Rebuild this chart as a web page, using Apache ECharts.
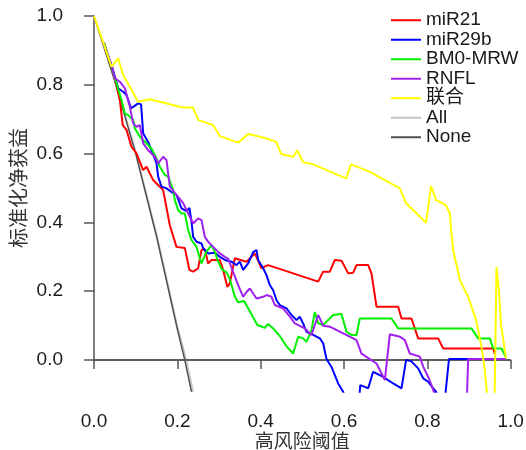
<!DOCTYPE html>
<html>
<head>
<meta charset="utf-8">
<script src="https://cdn.jsdelivr.net/npm/echarts@6/dist/echarts.min.js"></script>
<style>
  html, body { margin: 0; padding: 0; background: #fff; }
  #chart { width: 526px; height: 450px; }
</style>
</head>
<body>
<div id="chart"></div>
<script>
const tickLabels = ['0.0', '0.2', '0.4', '0.6', '0.8', '1.0'];
const legendNames = ['miR21', 'miR29b', 'BM0-MRW', 'RNFL', '联合', 'All', 'None'];

const miR21 = [[0.024,0.922],[0.042,0.853],[0.050,0.819],[0.062,0.756],[0.069,0.683],[0.078,0.669],[0.090,0.620],[0.102,0.601],[0.118,0.552],[0.126,0.562],[0.142,0.523],[0.158,0.504],[0.166,0.494],[0.182,0.392],[0.198,0.329],[0.218,0.326],[0.229,0.262],[0.238,0.257],[0.250,0.267],[0.258,0.320],[0.266,0.322],[0.274,0.281],[0.282,0.291],[0.302,0.291],[0.310,0.262],[0.320,0.213],[0.326,0.223],[0.338,0.296],[0.366,0.286],[0.386,0.310],[0.402,0.267],[0.418,0.276],[0.538,0.228],[0.550,0.257],[0.566,0.257],[0.578,0.291],[0.594,0.289],[0.610,0.252],[0.622,0.254],[0.630,0.276],[0.658,0.276],[0.666,0.252],[0.678,0.155],[0.730,0.155],[0.738,0.121],[0.762,0.121],[0.778,0.063],[0.826,0.063],[0.838,0.034],[0.958,0.034],[0.962,0.017]];

const miR29b = [[0.022,0.922],[0.042,0.858],[0.058,0.790],[0.070,0.780],[0.078,0.770],[0.089,0.732],[0.094,0.736],[0.106,0.746],[0.113,0.743],[0.118,0.659],[0.131,0.631],[0.144,0.591],[0.150,0.572],[0.154,0.533],[0.162,0.504],[0.174,0.499],[0.190,0.485],[0.198,0.480],[0.210,0.441],[0.222,0.433],[0.229,0.442],[0.234,0.402],[0.238,0.358],[0.246,0.344],[0.258,0.339],[0.262,0.325],[0.274,0.310],[0.290,0.312],[0.302,0.300],[0.314,0.291],[0.330,0.286],[0.342,0.276],[0.350,0.286],[0.358,0.262],[0.370,0.281],[0.382,0.314],[0.390,0.320],[0.394,0.291],[0.406,0.267],[0.414,0.247],[0.422,0.218],[0.430,0.203],[0.438,0.174],[0.446,0.160],[0.462,0.150],[0.474,0.131],[0.486,0.116],[0.494,0.126],[0.502,0.106],[0.510,0.082],[0.526,0.073],[0.542,0.063],[0.550,0.049],[0.558,0.003],[0.570,-0.020],[0.578,-0.044],[0.586,-0.068],[0.598,-0.092],[0.606,-0.12],[0.636,-0.12],[0.639,-0.073],[0.650,-0.078],[0.658,-0.082],[0.670,-0.034],[0.694,-0.049],[0.718,-0.068],[0.738,-0.082],[0.749,0.000],[0.761,-0.003],[0.778,-0.024],[0.790,-0.053],[0.802,-0.063],[0.814,-0.082],[0.821,-0.092],[0.826,-0.12],[0.842,-0.12],[0.844,-0.092],[0.852,0.003],[0.985,0.003]];

const bmoMrw = [[0.024,0.922],[0.042,0.853],[0.054,0.804],[0.066,0.756],[0.074,0.717],[0.082,0.712],[0.094,0.698],[0.098,0.674],[0.110,0.649],[0.126,0.630],[0.138,0.615],[0.150,0.586],[0.158,0.562],[0.170,0.538],[0.178,0.533],[0.190,0.494],[0.194,0.465],[0.202,0.436],[0.210,0.426],[0.218,0.426],[0.226,0.378],[0.234,0.349],[0.246,0.329],[0.254,0.296],[0.258,0.281],[0.270,0.315],[0.282,0.334],[0.290,0.315],[0.298,0.286],[0.306,0.265],[0.318,0.255],[0.326,0.235],[0.338,0.185],[0.346,0.168],[0.360,0.172],[0.374,0.142],[0.392,0.102],[0.410,0.094],[0.418,0.105],[0.430,0.092],[0.446,0.070],[0.462,0.040],[0.478,0.019],[0.490,0.068],[0.502,0.063],[0.510,0.053],[0.522,0.087],[0.530,0.140],[0.538,0.107],[0.550,0.102],[0.574,0.131],[0.594,0.134],[0.606,0.082],[0.618,0.073],[0.630,0.073],[0.638,0.121],[0.714,0.121],[0.730,0.092],[0.906,0.092],[0.922,0.063],[0.950,0.063],[0.958,0.034],[0.978,0.034],[0.990,0.005]];

const rnfl = [[0.022,0.922],[0.042,0.858],[0.050,0.819],[0.062,0.809],[0.074,0.790],[0.086,0.736],[0.094,0.688],[0.102,0.678],[0.110,0.683],[0.118,0.630],[0.130,0.610],[0.146,0.591],[0.154,0.572],[0.166,0.591],[0.174,0.581],[0.182,0.504],[0.198,0.480],[0.214,0.456],[0.226,0.426],[0.238,0.397],[0.250,0.412],[0.258,0.407],[0.266,0.358],[0.274,0.344],[0.286,0.329],[0.302,0.310],[0.314,0.300],[0.322,0.295],[0.334,0.256],[0.346,0.218],[0.358,0.184],[0.366,0.198],[0.374,0.208],[0.390,0.179],[0.406,0.184],[0.414,0.189],[0.426,0.184],[0.434,0.160],[0.454,0.150],[0.470,0.126],[0.482,0.107],[0.506,0.092],[0.522,0.073],[0.538,0.131],[0.550,0.100],[0.566,0.097],[0.622,0.063],[0.630,0.058],[0.642,0.019],[0.678,-0.010],[0.698,-0.058],[0.710,0.075],[0.734,0.068],[0.746,0.058],[0.758,0.019],[0.782,0.010],[0.790,-0.019],[0.802,-0.049],[0.810,-0.073],[0.821,-0.11],[0.895,-0.11],[0.898,0.003],[0.989,0.003]];

const combined = [[0.000,1.000],[0.042,0.853],[0.058,0.877],[0.070,0.828],[0.106,0.751],[0.134,0.758],[0.210,0.735],[0.238,0.733],[0.250,0.698],[0.286,0.683],[0.302,0.651],[0.346,0.632],[0.370,0.657],[0.406,0.647],[0.437,0.635],[0.449,0.599],[0.478,0.591],[0.488,0.610],[0.502,0.575],[0.526,0.569],[0.605,0.528],[0.617,0.569],[0.662,0.547],[0.734,0.499],[0.749,0.456],[0.797,0.399],[0.809,0.506],[0.821,0.465],[0.844,0.451],[0.854,0.426],[0.857,0.378],[0.862,0.320],[0.878,0.233],[0.898,0.184],[0.917,0.116],[0.930,0.039],[0.938,-0.029],[0.944,-0.11],[0.9615,-0.11],[0.966,0.271],[0.972,0.199],[0.977,0.102],[0.989,0.005]];

const treatAll = [[0.000,1.000],[0.050,0.815],[0.100,0.608],[0.150,0.368],[0.200,0.100],[0.222,0.000],[0.238,-0.092]];
const treatAllDark = [[0.000,1.000],[0.050,0.810],[0.100,0.600],[0.150,0.360],[0.200,0.090],[0.218,0.000],[0.234,-0.092]];
const treatNone = [[0, 0], [1, 0]];

const colors = {
    'miR21': '#ff0000',
    'miR29b': '#0000ff',
    'BM0-MRW': '#00f000',
    'RNFL': '#a020f0',
    '联合': '#ffff00',
    'All': '#c4c4c4',
    'None': '#505050'
};

const latin = "'Liberation Sans', Arial, sans-serif";
const cjk = "'Noto Sans CJK SC', sans-serif";

let chartDom = document.getElementById('chart');
let myChart = echarts.init(chartDom, null, {renderer: 'canvas'});

function line(name, data, width) {
    return {
        name: name,
        type: 'line',
        xAxisIndex: 0,
        yAxisIndex: 0,
        data: data,
        showSymbol: false,
        symbol: 'none',
        clip: true,
        silent: true,
        color: colors[name],
        itemStyle: { color: colors[name] },
        lineStyle: { color: colors[name], width: width }
    };
}

let option = {
    animation: false,
    backgroundColor: '#fff',
    legend: {
        data: legendNames,
        orient: 'vertical',
        left: 391,
        top: 10.5,
        padding: 0,
        itemGap: 0,
        itemWidth: 30,
        itemHeight: 2,
        icon: 'rect',
        selectedMode: false,
        textStyle: {
            fontFamily: "'Liberation Sans', 'Noto Sans CJK SC', sans-serif",
            fontSize: 19,
            lineHeight: 19.5,
            color: '#1a1a1a'
        }
    },
    grid: [
        // data area (includes the padded range around 0..1)
        { left: 77.33, top: 2.24, width: 450, height: 389.5, outerBoundsMode: 'none', containLabel: false },
        // axis frame: 0..1 on both axes
        { left: 94, top: 16, width: 416.7, height: 344, outerBoundsMode: 'none', containLabel: false }
    ],
    xAxis: [
        { type: 'value', gridIndex: 0, min: -0.04, max: 1.04, show: false },
        {
            type: 'value', gridIndex: 1, min: 0, max: 1, interval: 0.2,
            position: 'bottom', offset: 31.7,
            axisLine: { show: true, lineStyle: { color: '#555', width: 1.5 } },
            axisTick: { show: true, length: 9, lineStyle: { color: '#555', width: 1.5 } },
            splitLine: { show: false },
            axisLabel: {
                margin: 21, fontSize: 19, fontFamily: latin, color: '#1a1a1a',
                formatter: v => tickLabels[Math.round(v / 0.2)]
            },
            name: '高风险阈值',
            nameLocation: 'middle',
            nameGap: 40,
            nameMoveOverlap: false,
            nameTextStyle: { fontFamily: cjk, fontSize: 19, color: '#333' }
        }
    ],
    yAxis: [
        { type: 'value', gridIndex: 0, min: -0.092, max: 1.04, show: false },
        {
            type: 'value', gridIndex: 1, min: 0, max: 1, interval: 0.2,
            position: 'left', offset: 17,
            axisLine: { show: true, lineStyle: { color: '#555', width: 1.5 } },
            axisTick: { show: true, length: 10, lineStyle: { color: '#555', width: 1.5 } },
            splitLine: { show: false },
            axisLabel: {
                margin: 14, fontSize: 19, fontFamily: latin, color: '#1a1a1a',
                formatter: v => tickLabels[Math.round(v / 0.2)]
            },
            name: '标准化净获益',
            nameLocation: 'middle',
            nameGap: 49,
            nameMoveOverlap: false,
            nameTextStyle: { fontFamily: cjk, fontSize: 20, color: '#333' }
        }
    ],
    series: [
        line('All', treatAll, 1.5),
        line('None', treatAllDark, 1.5),
        line('None', treatNone, 1.5),
        line('miR21', miR21, 2),
        line('miR29b', miR29b, 2),
        line('BM0-MRW', bmoMrw, 2),
        line('RNFL', rnfl, 2),
        line('联合', combined, 2)
    ]
};

option && myChart.setOption(option);
</script>
</body>
</html>
